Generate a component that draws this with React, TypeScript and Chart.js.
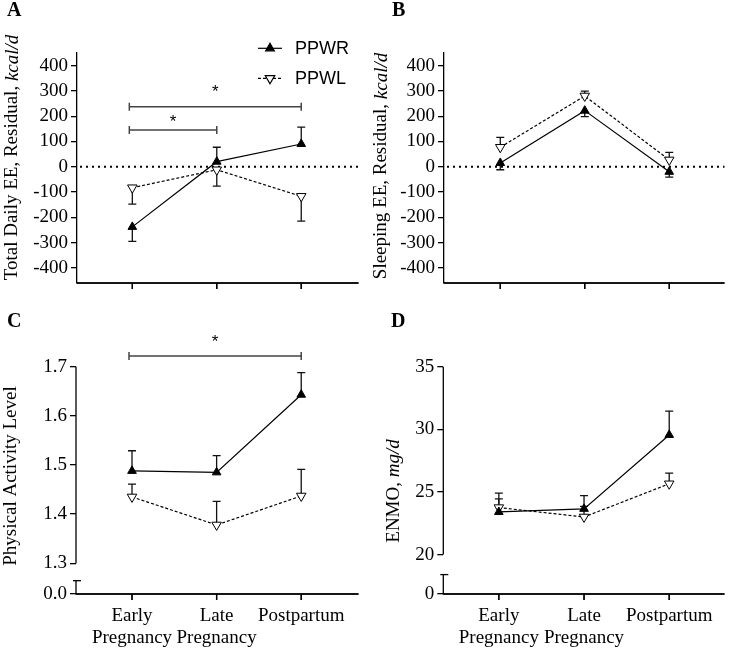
import React, { useEffect, useRef } from 'react';
import { Chart, registerables } from 'chart.js';

Chart.register(...registerables);

// ---------- shared data ----------
const categories: string[][] = [['Early', 'Pregnancy'], ['Late', 'Pregnancy'], ['Postpartum']];
const seriesNames = ['PPWR', 'PPWL'];
const categoryIndex = [0, 1, 2];

// ---------- Panel A: Total Daily EE residual ----------
const aPPWR = [-238, 20, 90];
const aPPWRErr = [-295, 77, 157];
const aPPWL = [-83, -12, -117];
const aPPWLErr = [-148, -77, -215];
const aTickValues = [-400, -300, -200, -100, 0, 100, 200, 300, 400];
const aTickLabels = ['-400', '-300', '-200', '-100', '0', '100', '200', '300', '400'];
const aBrackets = [
  { from: 0, to: 1, y: 145, star: 195 },
  { from: 0, to: 2, y: 237, star: 316 },
];

// ---------- Panel B: Sleeping EE residual ----------
const bPPWR = [15, 222, -20];
const bPPWRErr = [-12, 198, -41];
const bPPWL = [77, 280, 27];
const bPPWLErr = [116, 299, 57];
const bTickValues = [-400, -300, -200, -100, 0, 100, 200, 300, 400];
const bTickLabels = ['-400', '-300', '-200', '-100', '0', '100', '200', '300', '400'];

// ---------- Panel C: Physical Activity Level ----------
const cPPWR = [1.488, 1.485, 1.643];
const cPPWRErr = [1.529, 1.519, 1.688];
const cPPWL = [1.435, 1.378, 1.437];
const cPPWLErr = [1.461, 1.426, 1.491];
const cTickValues = [1.2375, 1.3, 1.4, 1.5, 1.6, 1.7];
const cTickLabels = ['0.0', '1.3', '1.4', '1.5', '1.6', '1.7'];
const cBrackets = [{ from: 0, to: 2, y: 1.722, star: 1.761 }];

// ---------- Panel D: ENMO ----------
const dPPWR = [23.4, 23.65, 29.55];
const dPPWRErr = [24.45, 24.7, 31.45];
const dPPWL = [23.75, 23.0, 25.65];
const dPPWLErr = [24.9, 23.85, 26.5];
const dTickValues = [16.85, 20, 25, 30, 35];
const dTickLabels = ['0', '20', '25', '30', '35'];

const SERIF = 'Liberation Serif';
const SANS = 'Liberation Sans';

type Bracket = { from: number; to: number; y: number; star: number };
interface PanelCfg {
  letter: string;
  left: number; top: number; width: number; height: number;
  area: { left: number; right: number; top: number; bottom: number };
  xMin: number; xMax: number;
  yMin: number; yMax: number;
  tickValues: number[]; tickLabels: string[];
  ppwr: number[]; ppwrErr: number[]; ppwl: number[]; ppwlErr: number[];
  titleNormal: string; titleItalic: string; titleX: number; titleY: number;
  letterX: number; letterY: number;
  showXLabels: boolean;
  zeroLine: boolean;
  legend: boolean;
  brackets: Bracket[];
  axisBreak?: { upperEnd: number; capValue: number };
}

function tri(ctx: CanvasRenderingContext2D, x: number, y: number, r: number, down: boolean, fill: string) {
  const s = down ? -1 : 1;
  ctx.beginPath();
  ctx.moveTo(x, y - s * r);
  ctx.lineTo(x + r * 0.866, y + (s * r) / 2);
  ctx.lineTo(x - r * 0.866, y + (s * r) / 2);
  ctx.closePath();
  ctx.fillStyle = fill;
  ctx.fill();
  ctx.stroke();
}

function buildConfig(cfg: PanelCfg): any {
  const A = cfg.area;
  // value span of a 6px tick mark below the x axis
  const tickSpan = (6 * (cfg.yMax - cfg.yMin)) / (A.bottom - A.top);

  const decor = {
    id: 'decor' + cfg.letter,
    beforeDatasetsDraw(chart: any) {
      const ctx: CanvasRenderingContext2D = chart.ctx;
      const xs = chart.scales.x;
      const ys = chart.scales.y;
      ctx.save();
      if (cfg.zeroLine) {
        const y0 = ys.getPixelForValue(0);
        ctx.strokeStyle = '#000';
        ctx.lineWidth = 2;
        ctx.setLineDash([2, 4]);
        ctx.beginPath();
        ctx.moveTo(xs.getPixelForValue(cfg.xMin) + 3, y0);
        ctx.lineTo(xs.getPixelForValue(cfg.xMax), y0);
        ctx.stroke();
        ctx.setLineDash([]);
      }
      ctx.strokeStyle = '#111';
      ctx.lineWidth = 1.3;
      const drawErr = (vals: number[], ends: number[]) => {
        vals.forEach((v, i) => {
          const x = xs.getPixelForValue(categoryIndex[i]);
          const y1 = ys.getPixelForValue(v);
          const y2 = ys.getPixelForValue(ends[i]);
          ctx.beginPath();
          ctx.moveTo(x, y1);
          ctx.lineTo(x, y2);
          ctx.moveTo(x - 4, y2);
          ctx.lineTo(x + 4, y2);
          ctx.stroke();
        });
      };
      drawErr(cfg.ppwr, cfg.ppwrErr);
      drawErr(cfg.ppwl, cfg.ppwlErr);
      ctx.restore();
    },
    afterDraw(chart: any) {
      const ctx: CanvasRenderingContext2D = chart.ctx;
      const xs = chart.scales.x;
      const ys = chart.scales.y;
      const xl = xs.getPixelForValue(cfg.xMin);
      const xr = xs.getPixelForValue(cfg.xMax);
      const yb = ys.getPixelForValue(cfg.yMin);
      const yt = ys.getPixelForValue(cfg.yMax);
      ctx.save();
      ctx.setLineDash([]);
      ctx.globalAlpha = 1;
      ctx.globalCompositeOperation = 'source-over';

      // x axis line + category tick marks
      ctx.fillStyle = '#000';
      ctx.fillRect(xl - 0.65, yb - 0.65, xr - xl + 0.65, 1.3);
      categoryIndex.forEach((i) => {
        const x = xs.getPixelForValue(i);
        ctx.fillRect(x - 0.65, yb, 1.3, 6);
      });

      // y axis with break
      if (cfg.axisBreak) {
        const yu = ys.getPixelForValue(cfg.axisBreak.upperEnd);
        const cy = ys.getPixelForValue(cfg.axisBreak.capValue);
        ctx.fillRect(xl - 0.65, yt, 1.3, yu - yt);
        ctx.fillRect(xl - 0.65, cy, 1.3, yb - cy);
        ctx.fillRect(xl - 3, cy - 0.65, 8, 1.3);
      }

      // panel letter
      ctx.fillStyle = '#000';
      ctx.font = `bold 20px "${SERIF}"`;
      ctx.textAlign = 'left';
      ctx.textBaseline = 'alphabetic';
      ctx.fillText(cfg.letter, cfg.letterX, cfg.letterY);

      // y title (rotated, mixed normal/italic)
      ctx.save();
      ctx.translate(cfg.titleX, cfg.titleY);
      ctx.rotate(-Math.PI / 2);
      ctx.textBaseline = 'middle';
      ctx.font = `19px "${SERIF}"`;
      const w1 = ctx.measureText(cfg.titleNormal).width;
      ctx.font = `italic 19px "${SERIF}"`;
      const w2 = cfg.titleItalic ? ctx.measureText(cfg.titleItalic).width : 0;
      const start = -(w1 + w2) / 2;
      ctx.font = `19px "${SERIF}"`;
      ctx.fillText(cfg.titleNormal, start, 0);
      if (cfg.titleItalic) {
        ctx.font = `italic 19px "${SERIF}"`;
        ctx.fillText(cfg.titleItalic, start + w1, 0);
      }
      ctx.restore();

      // significance brackets
      cfg.brackets.forEach((b) => {
        const x1 = xs.getPixelForValue(b.from) - 3;
        const x2 = xs.getPixelForValue(b.to);
        const y = ys.getPixelForValue(b.y);
        ctx.strokeStyle = '#444';
        ctx.lineWidth = 1.5;
        ctx.beginPath();
        ctx.moveTo(x1, y + 4);
        ctx.lineTo(x1, y - 4);
        ctx.moveTo(x1, y);
        ctx.lineTo(x2, y);
        ctx.moveTo(x2, y + 4);
        ctx.lineTo(x2, y - 4);
        ctx.stroke();
        const sy = ys.getPixelForValue(b.star);
        ctx.fillStyle = '#000';
        ctx.font = `17px "${SANS}"`;
        ctx.textAlign = 'center';
        ctx.textBaseline = 'alphabetic';
        ctx.fillText('*', (x1 + x2) / 2, sy + 10);
      });

      // legend
      if (cfg.legend) {
        const rows = [48.3, 78.3];
        ctx.strokeStyle = '#000';
        ctx.lineWidth = 1.2;
        rows.forEach((ry, k) => {
          ctx.setLineDash(k === 0 ? [] : [3, 2]);
          ctx.beginPath();
          ctx.moveTo(258, ry);
          ctx.lineTo(282, ry);
          ctx.stroke();
          ctx.setLineDash([]);
          tri(ctx, 270, ry, k === 0 ? 5 : 5.5, k === 1, k === 0 ? '#000' : '#fff');
          ctx.fillStyle = '#000';
          ctx.font = `18px "${SANS}"`;
          ctx.textAlign = 'left';
          ctx.textBaseline = 'middle';
          ctx.fillText(seriesNames[k], 295, ry + 1);
        });
      }
      ctx.restore();
    },
  };

  const toPts = (vals: number[]) => vals.map((y, i) => ({ x: categoryIndex[i], y }));

  // x-axis baseline and category tick marks as library-drawn line segments
  const axisPts = [
    { x: cfg.xMin, y: cfg.yMin },
    { x: cfg.xMax, y: cfg.yMin },
  ];
  const tickPts: any[] = [];
  categoryIndex.forEach((i) => {
    tickPts.push({ x: i, y: cfg.yMin });
    tickPts.push({ x: i, y: cfg.yMin - tickSpan });
    tickPts.push({ x: i + 0.5, y: null });
  });

  return {
    type: 'line',
    data: {
      datasets: [
        {
          label: seriesNames[0],
          data: toPts(cfg.ppwr),
          borderColor: '#000',
          borderWidth: 1.2,
          pointStyle: 'triangle',
          pointRadius: 5,
          pointBackgroundColor: '#000',
          pointBorderColor: '#000',
          pointBorderWidth: 1,
          tension: 0,
          fill: false,
        },
        {
          label: seriesNames[1],
          data: toPts(cfg.ppwl),
          borderColor: '#000',
          borderWidth: 1.2,
          borderDash: [3, 2],
          pointStyle: 'triangle',
          pointRotation: 180,
          pointRadius: 5.5,
          pointBackgroundColor: '#fff',
          pointBorderColor: '#000',
          pointBorderWidth: 1,
          tension: 0,
          fill: false,
        },
        {
          label: 'x-axis',
          data: axisPts,
          borderColor: '#000',
          borderWidth: 1.3,
          pointRadius: 0,
          tension: 0,
          fill: false,
          clip: false,
        },
        {
          label: 'x-ticks',
          data: tickPts,
          borderColor: '#000',
          borderWidth: 1.3,
          pointRadius: 0,
          tension: 0,
          fill: false,
          spanGaps: false,
          clip: false,
        },
      ],
    },
    options: {
      responsive: false,
      animation: false,
      devicePixelRatio: 1,
      layout: {
        padding: { left: 0, right: cfg.width - A.right, top: A.top, bottom: 0 },
      },
      plugins: {
        legend: { display: false },
        tooltip: { enabled: false },
        title: { display: false },
      },
      scales: {
        x: {
          type: 'linear',
          min: cfg.xMin,
          max: cfg.xMax,
          afterBuildTicks: (s: any) => {
            s.ticks = categoryIndex.map((v) => ({ value: v }));
          },
          afterFit: (s: any) => {
            s.height = cfg.height - A.bottom;
            s.paddingLeft = 0;
            s.paddingRight = 0;
          },
          ticks: {
            autoSkip: false,
            maxRotation: 0,
            padding: 5,
            color: '#000',
            font: { family: SERIF, size: 19, lineHeight: 1.16 },
            callback: (v: number) => (cfg.showXLabels ? categories[Math.round(v)] : ''),
          },
          grid: {
            display: true,
            drawOnChartArea: false,
            drawTicks: true,
            tickLength: 6,
            color: 'rgba(0,0,0,0)',
            tickColor: 'rgba(0,0,0,0)',
            lineWidth: 1.3,
          },
          border: { display: false },
        },
        y: {
          type: 'linear',
          min: cfg.yMin,
          max: cfg.yMax,
          afterBuildTicks: (s: any) => {
            s.ticks = cfg.tickValues.map((v) => ({ value: v }));
          },
          afterFit: (s: any) => {
            s.width = A.left;
            s.paddingTop = 0;
            s.paddingBottom = 0;
          },
          ticks: {
            autoSkip: false,
            padding: 3,
            color: '#000',
            font: { family: SERIF, size: 19 },
            callback: (_v: number, i: number) => cfg.tickLabels[i],
          },
          grid: {
            display: true,
            drawOnChartArea: false,
            drawTicks: true,
            tickLength: 6,
            color: '#000',
            tickColor: '#000',
            lineWidth: 1.3,
          },
          border: { display: !cfg.axisBreak, color: '#000', width: 1.3 },
        },
      },
    },
    plugins: [decor],
  };
}

const panels: PanelCfg[] = [
  {
    letter: 'A', left: 0, top: 0, width: 365, height: 300,
    area: { left: 77, right: 362, top: 53, bottom: 283 },
    xMin: -0.655, xMax: 2.678, yMin: -460, yMax: 450,
    tickValues: aTickValues, tickLabels: aTickLabels,
    ppwr: aPPWR, ppwrErr: aPPWRErr, ppwl: aPPWL, ppwlErr: aPPWLErr,
    titleNormal: 'Total Daily EE, Residual, ', titleItalic: 'kcal/d', titleX: 12.5, titleY: 157.5,
    letterX: 7, letterY: 16,
    showXLabels: false, zeroLine: true, legend: true, brackets: aBrackets,
  },
  {
    letter: 'B', left: 365, top: 0, width: 366, height: 300,
    area: { left: 79, right: 361.7, top: 53, bottom: 283 },
    xMin: -0.666, xMax: 2.654, yMin: -460, yMax: 450,
    tickValues: bTickValues, tickLabels: bTickLabels,
    ppwr: bPPWR, ppwrErr: bPPWRErr, ppwl: bPPWL, ppwlErr: bPPWLErr,
    titleNormal: 'Sleeping EE, Residual, ', titleItalic: 'kcal/d', titleX: 16.5, titleY: 166,
    letterX: 27, letterY: 16,
    showXLabels: false, zeroLine: true, legend: false, brackets: [],
  },
  {
    letter: 'C', left: 0, top: 300, width: 365, height: 348,
    area: { left: 76, right: 362, top: 66.7, bottom: 294 },
    xMin: -0.662, xMax: 2.677, yMin: 1.2375, yMax: 1.7,
    tickValues: cTickValues, tickLabels: cTickLabels,
    ppwr: cPPWR, ppwrErr: cPPWRErr, ppwl: cPPWL, ppwlErr: cPPWLErr,
    titleNormal: 'Physical Activity Level', titleItalic: '', titleX: 11, titleY: 176,
    letterX: 7, letterY: 27,
    showXLabels: true, zeroLine: false, legend: false, brackets: cBrackets,
    axisBreak: { upperEnd: 1.3, capValue: 1.2646 },
  },
  {
    letter: 'D', left: 365, top: 300, width: 366, height: 348,
    area: { left: 78.3, right: 361.7, top: 66.7, bottom: 294 },
    xMin: -0.652, xMax: 2.649, yMin: 16.85, yMax: 35,
    tickValues: dTickValues, tickLabels: dTickLabels,
    ppwr: dPPWR, ppwrErr: dPPWRErr, ppwl: dPPWL, ppwlErr: dPPWLErr,
    titleNormal: 'ENMO, ', titleItalic: 'mg/d', titleX: 29, titleY: 191,
    letterX: 26, letterY: 27,
    showXLabels: true, zeroLine: false, legend: false, brackets: [],
    axisBreak: { upperEnd: 20, capValue: 18.4 },
  },
];

function Panel({ cfg }: { cfg: PanelCfg }) {
  const ref = useRef<HTMLCanvasElement>(null);
  useEffect(() => {
    if (!ref.current) return;
    const chart = new Chart(ref.current, buildConfig(cfg));
    return () => chart.destroy();
  }, [cfg]);
  return (
    <canvas
      ref={ref}
      width={cfg.width}
      height={cfg.height}
      style={{ position: 'absolute', left: cfg.left, top: cfg.top, width: cfg.width, height: cfg.height }}
    />
  );
}

export default function App() {
  return (
    <div style={{ position: 'absolute', left: 0, top: 0, width: 731, height: 648, background: '#fff' }}>
      {panels.map((p) => (
        <Panel key={p.letter} cfg={p} />
      ))}
    </div>
  );
}
